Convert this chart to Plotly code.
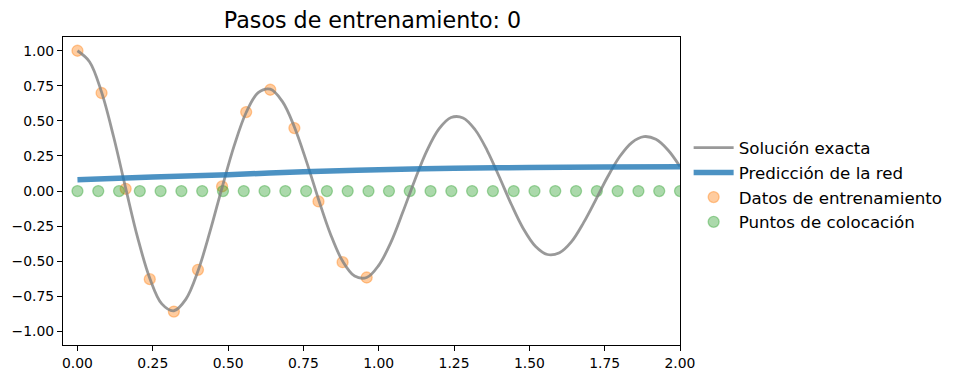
import plotly.graph_objects as go

# Exact solution (step 0.04)
exact_x = [round(0.04 * k, 2) for k in range(51)]
exact_y = [1.000, 0.922, 0.705, 0.387, 0.021, -0.334, -0.621, -0.804, -0.853, -0.770,
           -0.570, -0.288, 0.025, 0.322, 0.560, 0.701, 0.726, 0.639, 0.457, 0.212,
           -0.058, -0.307, -0.499, -0.606, -0.616, -0.529, -0.368, -0.150, 0.079, 0.288,
           0.443, 0.524, 0.521, 0.437, 0.289, 0.102, -0.094, -0.268, -0.393, -0.452,
           -0.439, -0.360, -0.225, -0.064, 0.102, 0.246, 0.346, 0.388, 0.369, 0.293,
           0.175]

# Network prediction
pred_x = [0.0, 0.25, 0.5, 0.75, 1.0, 1.25, 1.5, 1.75, 2.0]
pred_y = [0.080, 0.100, 0.117, 0.137, 0.152, 0.162, 0.168, 0.171, 0.173]

# Training data
train_x = [0.0, 0.08, 0.16, 0.24, 0.32, 0.40, 0.48, 0.56, 0.64, 0.72, 0.80, 0.88, 0.96]
train_y = [1.0, 0.699, 0.016, -0.628, -0.859, -0.561, 0.033, 0.563, 0.722, 0.449, -0.074, -0.507, -0.616]

# Collocation points
coloc_x = [0.0, 0.069, 0.138, 0.207, 0.276, 0.345, 0.414, 0.483, 0.552, 0.621,
           0.690, 0.759, 0.828, 0.897, 0.966, 1.034, 1.103, 1.172, 1.241, 1.310,
           1.379, 1.448, 1.517, 1.586, 1.655, 1.724, 1.793, 1.862, 1.931, 2.0]
coloc_y = [0.0] * 30

x_ticks = [0.0, 0.25, 0.5, 0.75, 1.0, 1.25, 1.5, 1.75, 2.0]
y_ticks = [-1.0, -0.75, -0.5, -0.25, 0.0, 0.25, 0.5, 0.75, 1.0]

ORANGE = "rgba(255,127,14,0.4)"
GREEN = "rgba(44,160,44,0.4)"

fig = go.Figure()
fig.add_trace(go.Scatter(x=train_x, y=train_y, mode="markers", name="Datos de entrenamiento",
                         marker=dict(size=11, color=ORANGE, line=dict(width=1.3, color=ORANGE)),
                         legendrank=3))
fig.add_trace(go.Scatter(x=coloc_x, y=coloc_y, mode="markers", name="Puntos de colocación",
                         marker=dict(size=11, color=GREEN, line=dict(width=1.3, color=GREEN)),
                         legendrank=4))
fig.add_trace(go.Scatter(x=exact_x, y=exact_y, mode="lines", name="Solución exacta",
                         line=dict(color="rgba(128,128,128,0.8)", width=2.8, shape="spline"),
                         legendrank=1))
fig.add_trace(go.Scatter(x=pred_x, y=pred_y, mode="lines", name="Predicción de la red",
                         line=dict(color="rgba(31,119,180,0.8)", width=5.5, shape="spline"),
                         legendrank=2))

axis_common = dict(showline=True, mirror=True, linecolor="black", linewidth=1.1,
                   ticks="outside", ticklen=5, tickcolor="black", tickwidth=1.1,
                   showgrid=False, zeroline=False, automargin=False,
                   tickfont=dict(family="DejaVu Sans", size=13.9, color="black"))

fig.update_layout(
    width=960, height=379,
    margin=dict(l=63, r=278, t=37, b=34),
    paper_bgcolor="white", plot_bgcolor="white",
    title=dict(text="Pasos de entrenamiento: 0", x=(63 + 682) / 2 / 960, xanchor="center",
               y=1 - 20 / 379, yanchor="middle",
               font=dict(family="DejaVu Sans", size=22.2, color="black")),
    xaxis=dict(range=[-0.048, 2.0], tickvals=x_ticks, tickformat=".2f", **axis_common),
    yaxis=dict(range=[-1.097, 1.098], tickvals=y_ticks, tickformat=".2f", **axis_common),
    legend=dict(x=1.014, xanchor="left", y=0.52, yanchor="middle", itemwidth=40,
                font=dict(family="DejaVu Sans", size=16.7, color="black"),
                bgcolor="rgba(0,0,0,0)", borderwidth=0),
    showlegend=True,
)

fig.write_html("out.html", config={"displayModeBar": False},
               post_script="document.body.style.margin='0px';")
